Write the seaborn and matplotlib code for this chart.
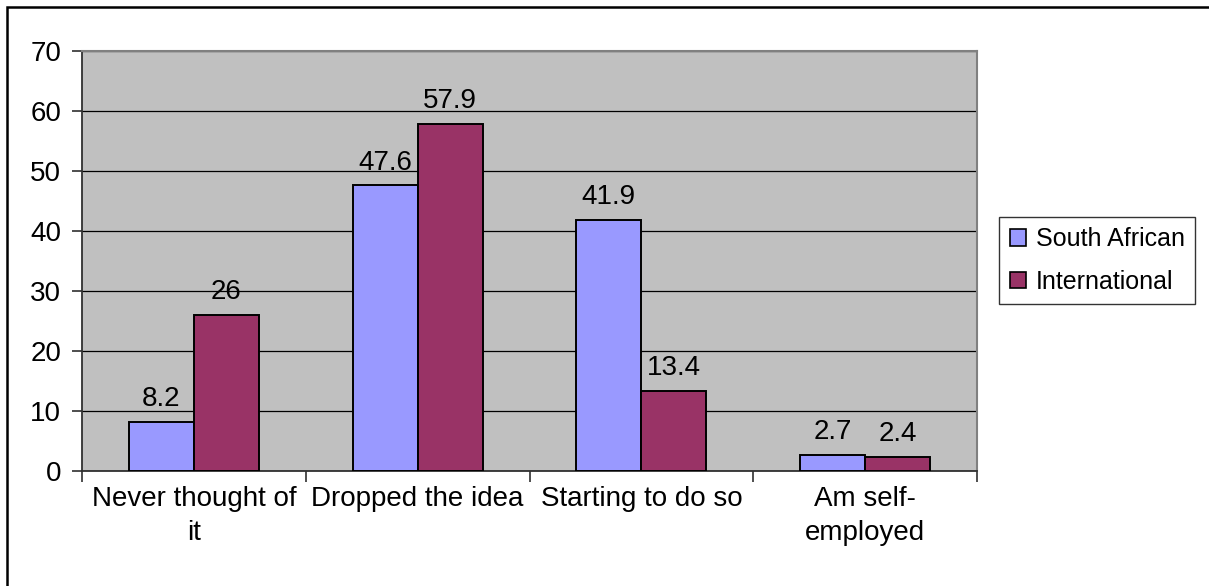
import matplotlib
matplotlib.use("Agg")
import matplotlib.pyplot as plt
import matplotlib.patches as mpatches
from matplotlib.ticker import FixedLocator
import seaborn as sns
import pandas as pd

categories = ["Never thought of\nit", "Dropped the idea", "Starting to do so", "Am self-\nemployed"]
series = ["South African", "International"]
south_african = [8.2, 47.6, 41.9, 2.7]
international = [26, 57.9, 13.4, 2.4]
value_labels_sa = ["8.2", "47.6", "41.9", "2.7"]
value_labels_int = ["26", "57.9", "13.4", "2.4"]
colors = ["#9999FF", "#993366"]

df = pd.DataFrame({
    "category": categories * 2,
    "group": [series[0]] * 4 + [series[1]] * 4,
    "value": south_african + international,
})

sns.set_theme(style="white")
plt.rcParams["font.family"] = ["Liberation Sans", "DejaVu Sans"]
plt.rcParams["text.color"] = "black"
plt.rcParams["xtick.color"] = "black"
plt.rcParams["ytick.color"] = "black"
plt.rcParams["xtick.labelcolor"] = "black"
plt.rcParams["ytick.labelcolor"] = "black"

FS = 20
LEG_FS = 18

W, H = 1209, 586
fig = plt.figure(figsize=(W / 100, H / 100), dpi=100)
ax = fig.add_axes([82 / W, 1 - 471 / H, (977 - 82) / W, (471 - 51) / H])

sns.barplot(data=df, x="category", y="value", hue="group", order=categories,
            hue_order=series, palette=colors, width=0.58, edgecolor="black",
            linewidth=1.4, saturation=1, ax=ax, legend=False, zorder=3)

ax.set_facecolor("#C0C0C0")
ax.set_ylim(0, 70)
ax.set_xlim(-0.5, 3.5)
ax.set_yticks(range(0, 71, 10))
ax.yaxis.grid(True, color="black", linewidth=0.9, zorder=0)
ax.set_axisbelow(True)
ax.set_xlabel("")
ax.set_ylabel("")

for name in ["top", "right"]:
    ax.spines[name].set_color("#808080")
    ax.spines[name].set_linewidth(1.5)
for name in ["left", "bottom"]:
    ax.spines[name].set_color("#303030")
    ax.spines[name].set_linewidth(1.3)

ax.tick_params(axis="y", length=7, width=1.2, color="#303030", direction="out",
               labelsize=FS, pad=8, left=True, labelcolor="black")
ax.tick_params(axis="x", which="major", length=0, labelsize=FS, pad=11,
               labelcolor="black")
ax.xaxis.set_minor_locator(FixedLocator([-0.5, 0.5, 1.5, 2.5, 3.5]))
ax.tick_params(axis="x", which="minor", length=8, width=1.2, color="#303030",
               direction="out", bottom=True)
for lbl in ax.get_xticklabels():
    lbl.set_linespacing(1.38)

for container, labels in zip(ax.containers, [value_labels_sa, value_labels_int]):
    ax.bar_label(container, labels=labels, padding=7, fontsize=FS, color="black")

handles = [mpatches.Patch(facecolor=c, edgecolor="black", linewidth=1.2, label=s)
           for c, s in zip(colors, series)]
leg = fig.legend(handles=handles, loc="center left",
                 bbox_to_anchor=(999 / W, 1 - 260.5 / H), fontsize=LEG_FS,
                 frameon=True, fancybox=False, edgecolor="black",
                 handlelength=0.65, handleheight=0.65, handletextpad=0.4,
                 borderpad=0.42, labelspacing=0.75, borderaxespad=0)
leg.get_frame().set_linewidth(1.0)

# outer chart frame
fig.patches.append(mpatches.Rectangle((7 / W, -0.05), 1.2, 1 - 7 / H + 0.05,
                                      transform=fig.transFigure, fill=False,
                                      edgecolor="black", linewidth=1.8))

fig.savefig("out.png", dpi=100, facecolor="white")
